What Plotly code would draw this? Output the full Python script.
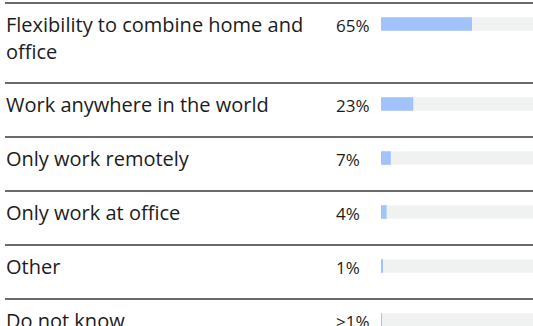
import plotly.graph_objects as go

# ---- data ----
categories = ["Flexibility to combine home and<br>office",
              "Work anywhere in the world",
              "Only work remotely",
              "Only work at office",
              "Other",
              "Do not know"]
values = [65, 23, 7, 4, 1, 0.7]
value_labels = ["65%", "23%", "7%", "4%", "1%", ">1%"]

# ---- layout constants ----
W, H = 533, 326
TOP = 3            # first separator
ROW_BASE = 54      # height of a one-line row
EXTRA_LINE = 26    # extra height per additional label line
CENTER_OFF = 21    # from separator to bar/text centre
LINE_GAP = 27      # baseline gap between wrapped label lines
BAR_X0 = 381       # px where the bar axis starts
PX_PER_PCT = 1.40  # px per percentage point
PCT_X = 335
LABEL_X = 5

TEXT = "#1c1c1c"
BLUE = "#a2c3fa"
TRACK = "#f0f1f1"
RULE = "#3a3a3a"
FONT = "Open Sans"

# compute row tops / centres from label line counts
tops, centers = [], []
y = TOP
for c in categories:
    n = len(c.split("<br>"))
    tops.append(y)
    centers.append(y + CENTER_OFF)
    y += ROW_BASE + EXTRA_LINE * (n - 1)

x_max = (W - BAR_X0) / PX_PER_PCT

fig = go.Figure()
fig.add_trace(go.Bar(
    x=[x_max] * len(categories), y=centers, orientation="h",
    width=13.5, marker=dict(color=TRACK, line=dict(width=0)),
    hoverinfo="skip", showlegend=False,
))
fig.add_trace(go.Bar(
    x=values, y=centers, orientation="h",
    width=13.5, marker=dict(color=BLUE, line=dict(width=0)),
    showlegend=False, hovertemplate="%{x}%<extra></extra>",
))

shapes = []
annotations = []
for cat, lab, top, cy in zip(categories, value_labels, tops, centers):
    shapes.append(dict(type="line", xref="paper", yref="y",
                       x0=LABEL_X / W, x1=1, y0=top, y1=top,
                       line=dict(color=RULE, width=1.3)))
    for i, part in enumerate(cat.split("<br>")):
        annotations.append(dict(
            xref="paper", yref="y", x=(LABEL_X - 1) / W, y=cy + i * LINE_GAP,
            text=part, showarrow=False, xanchor="left", yanchor="middle",
            font=dict(family=FONT, size=20, color=TEXT)))
    annotations.append(dict(
        xref="paper", yref="y", x=(PCT_X - 1) / W, y=cy + 1,
        text=lab, showarrow=False, xanchor="left", yanchor="middle",
        font=dict(family=FONT, size=17, color=TEXT)))

fig.update_layout(
    width=W, height=H,
    margin=dict(l=0, r=0, t=0, b=0),
    paper_bgcolor="white", plot_bgcolor="white",
    barmode="overlay",
    xaxis=dict(domain=[BAR_X0 / W, 1], range=[0, x_max], visible=False,
               fixedrange=True),
    yaxis=dict(domain=[0, 1], range=[H, 0], visible=False, fixedrange=True),
    shapes=shapes, annotations=annotations,
)

fig.write_html("out.html")
